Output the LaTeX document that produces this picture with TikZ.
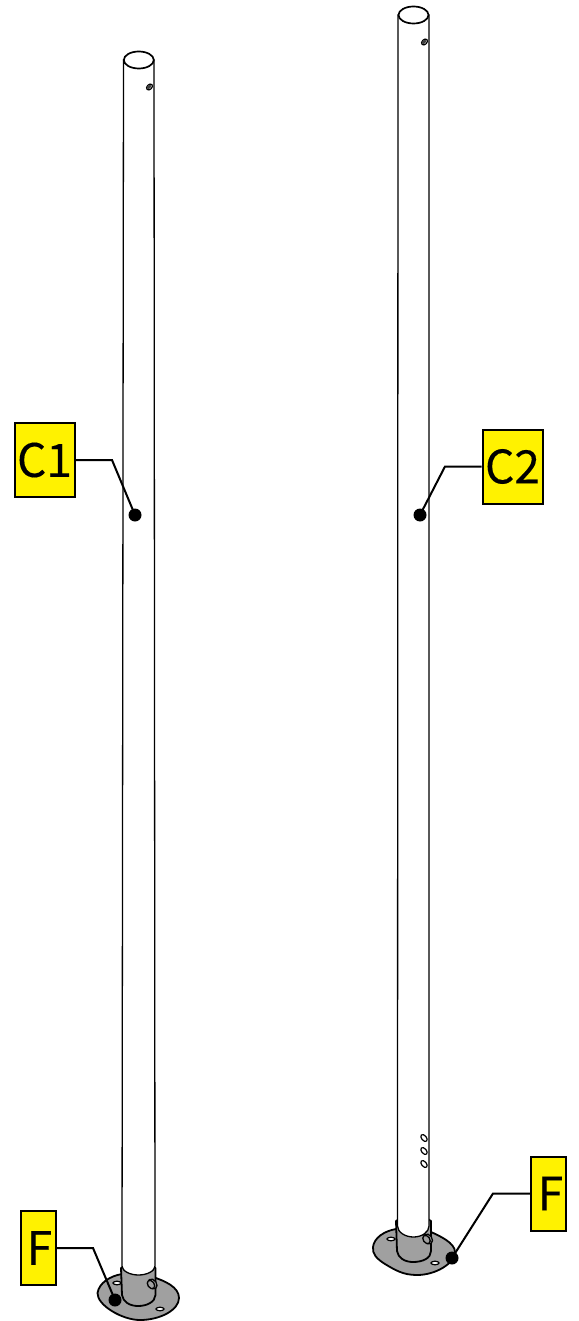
\documentclass[tikz,border=0pt]{standalone}
\usepackage{fontspec}
\setmainfont{Noto Sans CJK SC}[FakeBold=0.25]
\definecolor{platecol}{HTML}{A0A0A0}
\tikzset{
 x=1pt,y=-1pt,
 lbl/.style={draw=black,line width=2pt,fill=yellow,inner sep=0pt,font=\fontsize{46}{46}\selectfont,anchor=center},
 lead/.style={draw=black,line width=2pt,line join=miter},
 dotm/.style={circle,fill=black,draw=none,minimum size=13pt,inner sep=0pt},
 tube/.style={draw=black,line width=1.3pt,fill=white},
 metal/.style={draw=black,line width=1.8pt,fill=platecol,line join=round},
 hole/.style={draw=black,line width=1.2pt,fill=white},
}
\begin{document}
\begin{tikzpicture}
\useasboundingbox (0,0) rectangle (578,1321);
% ---- left post
\draw[metal] (97.5,1293) .. controls (99,1283) and (110,1276) .. (122,1274) -- (153,1277)
  .. controls (165,1281) and (179,1287) .. (179,1298)
  .. controls (179,1310) and (160,1320) .. (140,1320)
  .. controls (122,1320) and (97,1305) .. (97.5,1293) -- cycle;
\draw[hole] (117,1283) ellipse (4pt and 1.8pt);
\draw[hole] (160,1309) ellipse (4pt and 1.8pt);
\draw[metal] (121,1268) -- (122,1295) .. controls (123,1302) and (130,1306) .. (138,1306)
  .. controls (147,1306) and (155,1302) .. (155.5,1295) -- (155.5,1268)
  .. controls (150,1263) and (127,1263) .. (121,1268) -- cycle;
\draw[tube] (122,1266) -- (123.5,60) -- (154,60) -- (155,1266)
  .. controls (155,1271) and (147,1275) .. (138.5,1275)
  .. controls (130,1275) and (122,1271) .. (122,1266) -- cycle;
\draw[tube,line width=1.7pt] (138.8,60) ellipse (15pt and 8.5pt);
\draw[hole,rotate around={45:(149.5,87)}] (149.5,87) ellipse (3.4pt and 2.4pt);
\fill[black!75,rotate around={45:(149,87)}] (149,87) ellipse (2.4pt and 1.7pt);
\draw[metal,line width=1.3pt,rotate around={35:(152.5,1284)}] (152.5,1284) ellipse (4pt and 5.4pt);
\draw[metal,line width=1.3pt,rotate around={35:(151,1284.5)}] (151,1284.5) ellipse (3.2pt and 4.6pt);
% ---- right post
\draw[metal] (373,1247) .. controls (374,1238) and (384,1231) .. (396,1229) -- (431,1232)
  .. controls (440,1236) and (455,1243) .. (455,1252)
  .. controls (455,1263) and (436,1275) .. (417,1275)
  .. controls (403,1275) and (395,1270) .. (385,1264)
  .. controls (377,1259) and (372,1254) .. (373,1247) -- cycle;
\draw[hole] (391,1239) ellipse (4pt and 1.8pt);
\draw[hole] (435,1263) ellipse (4pt and 1.8pt);
\draw[metal] (396,1221) -- (397,1251) .. controls (398,1258) and (405,1262) .. (413,1262)
  .. controls (423,1262) and (431,1258) .. (431,1251) -- (431,1221)
  .. controls (425,1215) and (402,1215) .. (396,1221) -- cycle;
\draw[tube] (397.5,1226) -- (398,15) -- (429,15) -- (429,1226)
  .. controls (429,1232) and (422,1237) .. (413.5,1237)
  .. controls (405,1237) and (397.5,1232) .. (397.5,1226) -- cycle;
\draw[tube,line width=1.7pt] (413.5,15) ellipse (15pt and 8.5pt);
\draw[hole,rotate around={45:(424.5,42)}] (424.5,42) ellipse (3.4pt and 2.4pt);
\fill[black!75,rotate around={45:(424,42)}] (424,42) ellipse (2.4pt and 1.7pt);
\foreach \yy in {1138,1151,1164}{
  \draw[hole,rotate around={40:(424,\yy)}] (424,\yy) ellipse (2.4pt and 4pt);
}
\draw[metal,line width=1.3pt,rotate around={35:(428,1239)}] (428,1239) ellipse (4pt and 5.4pt);
\draw[metal,line width=1.3pt,rotate around={35:(426.5,1239.5)}] (426.5,1239.5) ellipse (3.2pt and 4.6pt);
% ---- labels
\node[lbl,minimum width=60pt,minimum height=74pt] (c1) at (44.5,460) {\raisebox{-1pt}{C1}};
\node[lbl,minimum width=60pt,minimum height=74pt] (c2) at (512.5,466.5) {\raisebox{-1pt}{C2}};
\node[lbl,minimum width=35pt,minimum height=74pt] (f1) at (38,1248) {\hspace{3pt}\raisebox{-1pt}{F}};
\node[lbl,minimum width=35pt,minimum height=74pt] (f2) at (548.5,1193.5) {\hspace{4pt}\raisebox{-1pt}{F}};
\node[dotm] (d1) at (135,515) {};
\node[dotm] (d2) at (420,515) {};
\node[dotm] (d3) at (115,1300) {};
\node[dotm] (d4) at (452,1258) {};
\coordinate (k1) at (112,460);
\coordinate (k2) at (445,466.5);
\coordinate (k3) at (93,1248);
\coordinate (k4) at (493,1193.5);
\draw[lead] (c1.east) -- (k1) -- (d1.center);
\draw[lead] (c2.west) -- (k2) -- (d2.center);
\draw[lead] (f1.east) -- (k3) -- (d3.center);
\draw[lead] (f2.west) -- (k4) -- (d4.center);
\end{tikzpicture}
\end{document}
